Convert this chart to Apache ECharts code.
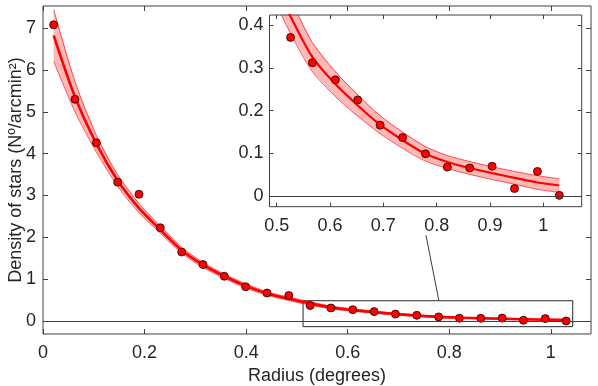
<!DOCTYPE html>
<html>
<head>
<meta charset="utf-8">
<script src="https://cdn.jsdelivr.net/npm/echarts@6/dist/echarts.min.js"></script>
<style>
  html, body { margin: 0; padding: 0; background: #fff; }
  #chart { width: 598px; height: 386px; }
</style>
</head>
<body>
<div id="chart"></div>
<script>
// observed radial density profile
const radius = [0.021, 0.063, 0.105, 0.147, 0.189, 0.231, 0.273, 0.315, 0.357, 0.399, 0.441, 0.484,
  0.526, 0.567, 0.610, 0.652, 0.694, 0.736, 0.779, 0.820, 0.862, 0.904, 0.946, 0.989, 1.030];
const density = [7.08, 5.30, 4.26, 3.32, 3.03, 2.23, 1.65, 1.35, 1.07, 0.82, 0.67, 0.61,
  0.371, 0.312, 0.272, 0.225, 0.166, 0.137, 0.099, 0.068, 0.066, 0.070, 0.018, 0.058, 0.002];

// fitted profile and its band
const fit = [6.83, 5.36, 4.24, 3.36, 2.70, 2.18, 1.69, 1.34, 1.07, 0.84, 0.66, 0.53,
  0.420, 0.325, 0.262, 0.212, 0.167, 0.131, 0.099, 0.080, 0.066, 0.054, 0.043, 0.032, 0.025];
const fitLow = [6.21, 5.00, 4.04, 3.22, 2.59, 2.10, 1.62, 1.28, 1.02, 0.79, 0.62, 0.49,
  0.380, 0.291, 0.233, 0.187, 0.146, 0.112, 0.082, 0.065, 0.051, 0.039, 0.028, 0.016, 0.009];
const fitHigh = [7.45, 5.72, 4.44, 3.50, 2.81, 2.27, 1.76, 1.40, 1.12, 0.89, 0.70, 0.57,
  0.460, 0.359, 0.291, 0.237, 0.188, 0.150, 0.116, 0.095, 0.081, 0.069, 0.058, 0.048, 0.041];

// ticks
const mainXTicks = [0, 0.2, 0.4, 0.6, 0.8, 1];
const mainYTicks = [0, 1, 2, 3, 4, 5, 6, 7];
const insetXTicks = [0.5, 0.6, 0.7, 0.8, 0.9, 1];
const insetYTicks = [0, 0.1, 0.2, 0.3, 0.4];

// zoom box on the main plot and the line to the inset
const zoomBox = [[0.512, -0.135], [1.043, 0.485]];
const connector = [[0.7795, 0.485], [0.754, 2.055]];

const FONT = 'Liberation Sans, Arial, sans-serif';
const INK = '#262626';
const AXIS = '#404040';

const pts = (ys) => radius.map((x, i) => [x, ys[i]]);

function xAxisOf(grid, pos, min, max, ticks, tickLen, labels) {
  return {
    type: 'value', gridIndex: grid, position: pos, min: min, max: max,
    axisLine: { show: false, onZero: false },
    splitLine: { show: false },
    axisTick: { show: true, inside: true, length: tickLen, customValues: ticks,
      lineStyle: { color: AXIS, width: 1 } },
    axisLabel: { show: labels, customValues: ticks, margin: 10,
      fontSize: 18, fontFamily: FONT, color: INK }
  };
}
function yAxisOf(grid, pos, min, max, ticks, tickLen, labels, margin) {
  return {
    type: 'value', gridIndex: grid, position: pos, min: min, max: max,
    axisLine: { show: false, onZero: false },
    splitLine: { show: false },
    axisTick: { show: true, inside: true, length: tickLen, customValues: ticks,
      lineStyle: { color: AXIS, width: 1 } },
    axisLabel: { show: labels, customValues: ticks, margin: margin,
      fontSize: 18, fontFamily: FONT, color: INK }
  };
}

// band fill: polygon along the upper edge and back along the lower edge
function bandItem(params, api) {
  if (params.dataIndex !== 0) return null;
  const upper = radius.map((x, i) => api.coord([x, fitHigh[i]]));
  const lower = radius.map((x, i) => api.coord([x, fitLow[i]])).reverse();
  return {
    type: 'polygon',
    shape: { points: upper.concat(lower) },
    style: { fill: 'rgba(255,0,0,0.28)' }
  };
}

function seriesFor(axisIdx, lineW) {
  const edge = { color: 'rgba(255,0,0,0.8)', width: 0.8 };
  return [
    {
      type: 'custom', xAxisIndex: axisIdx, yAxisIndex: axisIdx, clip: true,
      data: pts(fit), renderItem: bandItem, silent: true, z: 1
    },
    {
      type: 'line', xAxisIndex: axisIdx, yAxisIndex: axisIdx,
      data: pts(fitLow), smooth: 0.3, showSymbol: false, lineStyle: edge, z: 2
    },
    {
      type: 'line', xAxisIndex: axisIdx, yAxisIndex: axisIdx,
      data: pts(fitHigh), smooth: 0.3, showSymbol: false, lineStyle: edge, z: 2
    },
    {
      type: 'line', xAxisIndex: axisIdx, yAxisIndex: axisIdx,
      data: pts(fit), smooth: 0.3, showSymbol: false,
      lineStyle: { color: '#ff0000', width: lineW }, z: 3,
      markLine: {
        silent: true, symbol: ['none', 'none'], label: { show: false },
        lineStyle: { color: AXIS, width: 1, type: 'solid' },
        data: [{ yAxis: 0 }]
      }
    },
    {
      type: 'scatter', xAxisIndex: axisIdx, yAxisIndex: axisIdx,
      data: pts(density), symbol: 'circle', symbolSize: 8,
      itemStyle: { color: '#ff0000', borderColor: '#1a0000', borderWidth: 0.8, opacity: 1 }, z: 4
    }
  ];
}

const main = seriesFor(0, 2.6);
main[4].markArea = {
  silent: true,
  itemStyle: { color: 'rgba(0,0,0,0)', borderColor: INK, borderWidth: 1 },
  data: [[{ coord: zoomBox[0] }, { coord: zoomBox[1] }]]
};
main[4].markLine = {
  silent: true, symbol: ['none', 'none'], label: { show: false },
  lineStyle: { color: INK, width: 0.9, type: 'solid' },
  data: [[{ coord: connector[0] }, { coord: connector[1] }]]
};
const inset = seriesFor(2, 2.2);

const chart = echarts.init(document.getElementById('chart'));
chart.setOption({
  animation: false,
  backgroundColor: '#fff',
  grid: [
    { left: 43, right: 7, top: 6, bottom: 52, show: true, outerBoundsMode: 'none',
      backgroundColor: '#fff', borderColor: AXIS, borderWidth: 1 },
    { left: 269.5, right: 16.3, top: 15, bottom: 179.3, show: true, outerBoundsMode: 'none',
      backgroundColor: '#fff', borderColor: AXIS, borderWidth: 1 }
  ],
  xAxis: [
    Object.assign(xAxisOf(0, 'bottom', 0, 1.079, mainXTicks, 5, true), {
      name: 'Radius (degrees)', nameLocation: 'middle', nameGap: 33, nameMoveOverlap: false,
      nameTextStyle: { fontSize: 18, fontFamily: FONT, color: INK }
    }),
    xAxisOf(0, 'top', 0, 1.079, mainXTicks, 5, false),
    xAxisOf(1, 'bottom', 0.4865, 1.072, insetXTicks, 4, true),
    xAxisOf(1, 'top', 0.4865, 1.072, insetXTicks, 4, false)
  ],
  yAxis: [
    Object.assign(yAxisOf(0, 'left', -0.31, 7.53, mainYTicks, 5, true, 7), {
      name: 'Density of stars (Nº/arcmin²)', nameLocation: 'middle', nameGap: 18, nameMoveOverlap: false,
      nameTextStyle: { fontSize: 18, fontFamily: FONT, color: INK }
    }),
    yAxisOf(0, 'right', -0.31, 7.53, mainYTicks, 5, false, 7),
    yAxisOf(1, 'left', -0.0245, 0.4234, insetYTicks, 4, true, 6),
    yAxisOf(1, 'right', -0.0245, 0.4234, insetYTicks, 4, false, 6)
  ],
  series: main.concat(inset)
});
</script>
</body>
</html>
